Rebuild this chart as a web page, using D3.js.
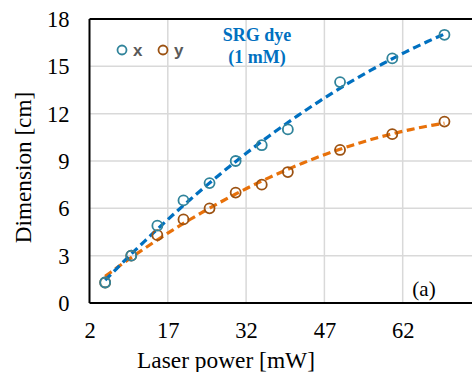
<!DOCTYPE html>
<html>
<head>
<meta charset="utf-8">
<script src="https://cdn.jsdelivr.net/npm/d3@7"></script>
<style>
  html, body { margin: 0; padding: 0; background: #fff; }
  svg { display: block; }
  .serif { font-family: "Liberation Serif", "Times New Roman", Times, "DejaVu Serif", serif; }
  .sans { font-family: "Liberation Sans", Arial, sans-serif; }
</style>
</head>
<body>
<svg id="chart" width="472" height="372"></svg>
<script>
// Laser power (mW) and measured spot dimensions (cm)
const power = [5, 10, 15, 20, 25, 30, 35, 40, 50, 60, 70];
const dimX  = [1.3, 3.0, 4.9, 6.5, 7.6, 9.0, 10.0, 11.0, 14.0, 15.5, 17.0];
const dimY  = [1.3, 3.0, 4.3, 5.3, 6.0, 7.0, 7.5, 8.3, 9.7, 10.7, 11.5];
const xTicks = [2, 17, 32, 47, 62, 77];
const yTicks = [0, 3, 6, 9, 12, 15, 18];

const svg = d3.select("#chart");
const x = d3.scaleLinear().domain([2, 77]).range([89.5, 481]);
const y = d3.scaleLinear().domain([0, 18]).range([303, 19]);

// gridlines
svg.append("g").selectAll("line").data(yTicks.slice(1, -1)).join("line")
  .attr("x1", x(2)).attr("x2", x(77))
  .attr("y1", d => y(d)).attr("y2", d => y(d))
  .attr("stroke", "#d9d9d9").attr("stroke-width", 1.5);
svg.append("g").selectAll("line").data(xTicks.slice(1)).join("line")
  .attr("x1", d => x(d)).attr("x2", d => x(d))
  .attr("y1", y(0)).attr("y2", y(18))
  .attr("stroke", "#d9d9d9").attr("stroke-width", 1.5);

// frame
const frame = svg.append("g").attr("stroke", "#000").attr("stroke-width", 2);
frame.append("line").attr("x1", x(2)).attr("x2", x(77)).attr("y1", y(18)).attr("y2", y(18));
frame.append("line").attr("x1", x(2)).attr("x2", x(77)).attr("y1", y(0)).attr("y2", y(0));
frame.append("line").attr("x1", x(2)).attr("x2", x(2)).attr("y1", y(0)).attr("y2", y(18));

// tick labels
const yAxis = d3.axisLeft(y).tickValues(yTicks).tickSize(0).tickPadding(20);
const gy = svg.append("g").attr("transform", `translate(${x(2)},0)`).call(yAxis)
  .attr("font-family", null).attr("font-size", null).attr("class", "serif");
gy.select(".domain").remove();
gy.selectAll("text").attr("font-size", 22.5).attr("fill", "#000").attr("dy", "0.34em");

const xAxis = d3.axisBottom(x).tickValues(xTicks.slice(0, -1)).tickSize(0).tickPadding(19.5);
const gx = svg.append("g").attr("transform", `translate(0,${y(0)})`).call(xAxis)
  .attr("font-family", null).attr("font-size", null).attr("class", "serif");
gx.select(".domain").remove();
gx.selectAll("text").attr("font-size", 22.5).attr("fill", "#000");

// axis titles
svg.append("text").attr("class", "serif").attr("x", 226).attr("y", 367.5).attr("text-anchor", "middle")
  .attr("font-size", 23.4).text("Laser power [mW]");
svg.append("text").attr("class", "serif").attr("transform", "translate(31,167.5) rotate(-90)")
  .attr("text-anchor", "middle").attr("font-size", 23.2).text("Dimension [cm]");

// least-squares quadratic trendline
function quadFit(xs, ys) {
  const s = [0, 0, 0, 0, 0], t = [0, 0, 0];
  xs.forEach((xi, i) => {
    for (let k = 0; k < 5; k++) s[k] += Math.pow(xi, k);
    for (let k = 0; k < 3; k++) t[k] += ys[i] * Math.pow(xi, k);
  });
  const A = [[s[0], s[1], s[2], t[0]], [s[1], s[2], s[3], t[1]], [s[2], s[3], s[4], t[2]]];
  for (let c = 0; c < 3; c++) {
    for (let r = c + 1; r < 3; r++) {
      const f = A[r][c] / A[c][c];
      for (let k = c; k < 4; k++) A[r][k] -= f * A[c][k];
    }
  }
  const b = [0, 0, 0];
  for (let r = 2; r >= 0; r--) {
    let v = A[r][3];
    for (let k = r + 1; k < 3; k++) v -= A[r][k] * b[k];
    b[r] = v / A[r][r];
  }
  return xv => b[0] + b[1] * xv + b[2] * xv * xv;
}

const line = d3.line().x(d => x(d[0])).y(d => y(d[1]));
const series = [
  { vals: dimX, line: "#0070c0", marker: "#31849b" },
  { vals: dimY, line: "#e8710a", marker: "#9c5212" }
];

series.slice().reverse().forEach(s => {
  const f = quadFit(power, s.vals);
  const x0 = power[0], x1 = power[power.length - 1];
  const pts = d3.range(0, 61).map(i => {
    const xv = x0 + (x1 - x0) * i / 60;
    return [xv, f(xv)];
  });
  svg.append("path").datum(pts).attr("d", line)
    .attr("fill", "none").attr("stroke", s.line).attr("stroke-width", 3.2)
    .attr("stroke-dasharray", "8,4.5");
});

series.slice().reverse().forEach(s => {
  svg.append("g").selectAll("circle").data(power).join("circle")
    .attr("cx", d => x(d)).attr("cy", (d, i) => y(s.vals[i])).attr("r", 5)
    .attr("fill", "none").attr("stroke", s.marker).attr("stroke-width", 1.8);
});

// legend
const legend = [{ label: "x", c: series[0].marker, cx: 122 }, { label: "y", c: series[1].marker, cx: 163 }];
legend.forEach(l => {
  svg.append("circle").attr("cx", l.cx).attr("cy", 50).attr("r", 4.5)
    .attr("fill", "none").attr("stroke", l.c).attr("stroke-width", 1.8);
  svg.append("text").attr("class", "sans").attr("x", l.cx + 11).attr("y", 55.5)
    .attr("font-weight", "bold").attr("font-size", 17).attr("fill", "#595959").text(l.label);
});

// annotation
svg.append("text").attr("class", "serif").attr("x", 257).attr("y", 40.5).attr("text-anchor", "middle")
  .attr("font-weight", "bold").attr("font-size", 18).attr("fill", "#0070c0").text("SRG dye");
svg.append("text").attr("class", "serif").attr("x", 257).attr("y", 63).attr("text-anchor", "middle")
  .attr("font-weight", "bold").attr("font-size", 18).attr("fill", "#0070c0").text("(1 mM)");

svg.append("text").attr("class", "serif").attr("x", 424).attr("y", 295.5).attr("text-anchor", "middle")
  .attr("font-size", 21).text("(a)");
</script>
</body>
</html>
